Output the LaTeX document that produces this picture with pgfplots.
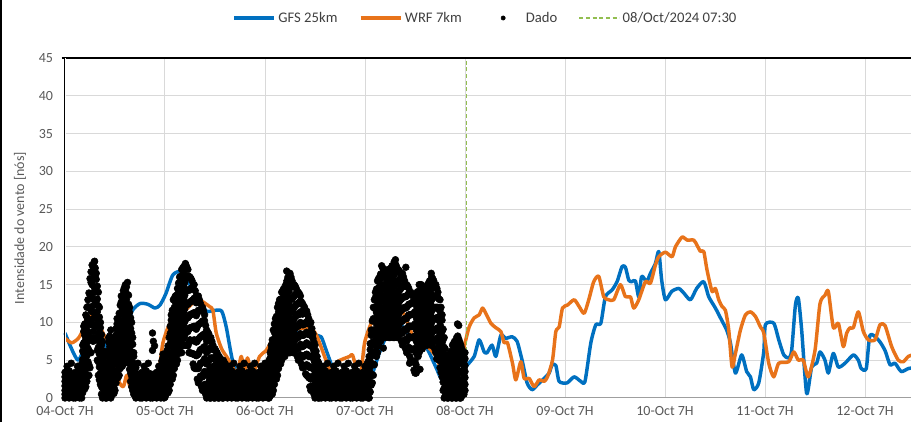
\documentclass[border=0pt]{standalone}
\usepackage{fontspec}
\setmainfont{Carlito}
\usepackage{pgfplots}
\usepackage{pgfplotstable}
\pgfplotsset{compat=1.18}
\definecolor{gfs}{RGB}{0,112,192}
\definecolor{wrf}{RGB}{232,115,26}
\definecolor{vline}{RGB}{146,190,80}
\definecolor{gridc}{RGB}{217,217,217}
\definecolor{txt}{RGB}{89,89,89}
\definecolor{legtxt}{RGB}{64,64,64}

\pgfplotstableread{
t a b c d e f g
0 0.0 0.5 1.0 1.6 2.2 2.8 3.4
0.5 0.2 0.8 1.3 1.9 2.5 3.1 4.2
1 0.0 0.6 1.2 1.7 2.3 2.9 3.6
1.5 0.1 0.7 1.1 1.8 2.4 3.0 4.6
2 0.0 0.4 0.9 1.5 2.1 2.7 3.2
2.5 0.0 0.5 1.0 1.6 2.2 2.8 3.4
3 0.2 0.8 1.3 1.9 2.5 3.1 4.2
3.5 0.0 0.6 1.2 1.7 2.3 2.9 3.6
4 0.0 0.8 1.5 2.3 3.0 3.8 4.5
4.5 1.5 3.0 4.4 5.9 7.3 8.8 9.5
5 1.5 3.1 4.7 6.2 7.8 9.4 11.0
5.5 2.9 4.8 6.6 8.4 10.3 12.1 13.0
6 4.0 6.0 7.9 9.9 11.9 13.8 15.8
6.5 7.9 9.7 11.4 13.2 15.0 16.7 17.6
7 8.0 9.7 11.3 13.0 14.7 16.3 18.0
7.5 7.8 9.4 11.0 12.5 14.1 15.7 16.5
8 3.0 4.8 6.7 8.5 10.3 12.2 14.0
8.5 1.8 3.3 4.8 6.3 7.8 9.3 10.0
9 0.0 1.3 2.5 3.8 5.0 6.3 7.5
9.5 0.3 0.9 1.6 2.2 2.8 3.5 3.8
10 0.0 0.8 1.5 2.3 3.0 3.8 4.5
10.5 0.9 2.2 3.5 4.8 6.1 7.4 8.0
11 0.0 1.5 3.0 4.5 6.0 7.5 9.0
11.5 0.7 1.7 2.6 3.6 4.6 5.5 6.0
12 1.0 2.2 3.3 4.5 5.7 6.8 8.0
12.5 3.2 4.5 5.8 7.2 8.5 9.8 10.5
13 3.0 4.4 5.7 7.1 8.5 9.8 11.2
13.5 4.8 6.4 8.0 9.5 11.1 12.7 13.5
14 4.5 6.1 7.7 9.4 11.0 12.6 14.2
14.5 5.8 7.5 9.2 10.8 12.5 14.2 15.0
15 5.5 7.1 8.8 10.4 12.0 13.7 15.3
15.5 3.8 5.3 6.8 8.3 9.8 11.3 12.0
16 1.5 2.9 4.3 5.8 7.2 8.6 10.0
16.5 0.5 1.5 2.5 3.5 4.5 5.5 6.0
17 0.0 0.7 1.3 2.0 2.7 3.3 4.0
17.5 0.1 0.7 1.1 1.8 2.4 3.0 4.6
18 0.0 0.4 0.9 1.5 2.1 2.7 3.2
18.5 0.0 0.5 1.0 1.6 2.2 2.8 3.4
19 0.2 0.8 1.3 1.9 2.5 3.1 4.2
19.5 0.0 0.6 1.2 1.7 2.3 2.9 3.6
20 0.1 0.7 1.1 1.8 2.4 3.0 4.6
20.5 0.0 0.4 0.9 1.5 2.1 2.7 3.2
21 0.0 0.6 1.2 1.8 2.4 6.3 8.6
21.5 0.1 0.7 1.3 1.9 2.6 3.2 6.9
22 0.0 0.5 1.0 1.6 2.2 2.8 3.4
22.5 0.2 0.8 1.3 1.9 2.5 3.1 4.2
23 0.0 0.7 1.3 2.0 2.7 3.3 4.0
23.5 0.5 1.5 2.4 3.4 4.4 5.3 5.8
24 0.1 0.9 1.7 2.6 3.4 4.2 5.0
24.5 1.0 2.0 2.9 3.9 4.9 5.8 6.3
25 1.0 2.2 3.3 4.5 5.7 6.8 8.0
25.5 2.8 4.3 5.8 7.3 8.8 10.3 11.0
26 3.0 4.7 6.3 8.0 9.7 11.3 13.0
26.5 4.8 6.4 8.0 9.5 11.1 12.7 13.5
27 5.0 6.6 8.2 9.8 11.3 12.9 14.5
27.5 6.8 8.5 10.2 11.8 13.5 15.2 16.0
28 6.0 7.8 9.7 11.5 13.3 15.2 17.0
28.5 7.9 9.6 11.3 13.1 14.8 16.5 17.4
29 7.0 8.8 10.5 12.3 14.1 15.8 17.6
29.5 6.9 8.8 10.6 12.4 14.3 16.1 17.0
30 6.0 7.7 9.3 11.0 12.7 14.3 16.0
30.5 5.9 7.6 9.4 11.1 12.9 14.6 15.5
31 4.0 5.8 7.7 9.5 11.3 13.2 15.0
31.5 3.9 5.6 7.4 9.1 10.9 12.6 13.5
32 2.0 3.9 5.8 7.8 9.7 11.6 13.5
32.5 2.9 4.6 6.4 8.1 9.9 11.6 12.5
33 1.0 2.8 4.7 6.5 8.3 10.2 12.0
33.5 1.8 3.5 5.2 6.8 8.5 10.2 11.0
34 0.0 1.5 3.0 4.5 6.0 7.5 9.0
34.5 0.7 2.1 3.5 5.0 6.4 7.8 8.5
35 0.0 1.3 2.7 4.0 5.3 6.7 8.0
35.5 0.6 1.8 2.9 4.1 5.2 6.4 7.0
36 0.0 1.1 2.2 3.3 4.3 5.4 6.5
36.5 0.5 1.5 2.5 3.5 4.5 5.5 6.0
37 0.0 0.9 1.8 2.8 3.7 4.6 5.5
37.5 0.4 1.3 2.1 2.9 3.8 4.6 5.0
38 0.0 0.8 1.7 2.5 3.3 4.2 5.0
38.5 0.4 1.1 1.9 2.6 3.4 4.1 4.5
39 0.0 0.5 1.0 1.6 2.2 2.8 3.4
39.5 0.2 0.8 1.3 1.9 2.5 3.1 4.2
40 0.0 0.6 1.2 1.7 2.3 2.9 3.6
40.5 0.1 0.7 1.1 1.8 2.4 3.0 4.6
41 0.0 0.4 0.9 1.5 2.1 2.7 3.2
41.5 0.0 0.5 1.0 1.6 2.2 2.8 3.4
42 0.2 0.8 1.3 1.9 2.5 3.1 4.2
42.5 0.0 0.6 1.2 1.7 2.3 2.9 3.6
43 0.1 0.7 1.1 1.8 2.4 3.0 4.6
43.5 0.0 0.4 0.9 1.5 2.1 2.7 3.2
44 0.0 0.5 1.0 1.6 2.2 2.8 3.4
44.5 0.2 0.8 1.3 1.9 2.5 3.1 4.2
45 0.0 0.6 1.2 1.7 2.3 2.9 3.6
45.5 0.1 0.7 1.1 1.8 2.4 3.0 4.6
46 0.0 0.4 0.9 1.5 2.1 2.7 3.2
46.5 0.0 0.5 1.0 1.6 2.2 2.8 3.4
47 0.2 0.8 1.3 1.9 2.5 3.1 4.2
47.5 0.0 0.6 1.2 1.7 2.3 2.9 3.6
48 0.1 0.7 1.1 1.8 2.4 3.0 4.6
48.5 0.3 1.0 1.7 2.3 3.0 3.7 4.0
49 0.0 0.8 1.7 2.5 3.3 4.2 5.0
49.5 0.6 1.8 2.9 4.1 5.2 6.4 7.0
50 1.0 2.3 3.7 5.0 6.3 7.7 9.0
50.5 2.7 4.1 5.5 7.0 8.4 9.8 10.5
51 3.0 4.5 6.0 7.5 9.0 10.5 12.0
51.5 4.8 6.3 7.8 9.3 10.8 12.3 13.0
52 5.0 6.5 8.0 9.5 11.0 12.5 14.0
52.5 5.8 7.4 9.0 10.5 12.1 13.7 14.5
53 6.0 7.5 9.0 10.5 12.0 13.5 15.0
53.5 6.8 8.5 10.2 11.8 13.5 15.2 16.0
54 6.0 7.8 9.5 11.3 13.0 14.8 16.5
54.5 6.8 8.4 10.0 11.5 13.1 14.7 15.5
55 6.0 7.5 9.0 10.5 12.0 13.5 15.0
55.5 6.7 8.1 9.5 11.0 12.4 13.8 14.5
56 5.0 6.5 8.0 9.5 11.0 12.5 14.0
56.5 5.7 7.1 8.5 10.0 11.4 12.8 13.5
57 4.0 5.4 6.8 8.3 9.7 11.1 12.5
57.5 4.2 5.6 7.0 8.5 9.9 11.3 12.0
58 3.0 4.4 5.8 7.3 8.7 10.1 11.5
58.5 2.7 4.1 5.5 7.0 8.4 9.8 10.5
59 1.0 2.5 4.0 5.5 7.0 8.5 10.0
59.5 1.6 2.9 4.1 5.4 6.6 7.9 8.5
60 0.0 1.2 2.3 3.5 4.7 5.8 7.0
60.5 0.5 1.4 2.3 3.2 4.1 5.0 5.5
61 0.0 0.8 1.5 2.3 3.0 3.8 4.5
61.5 0.0 0.5 1.0 1.6 2.2 2.8 3.4
62 0.2 0.8 1.3 1.9 2.5 3.1 4.2
62.5 0.0 0.6 1.2 1.7 2.3 2.9 3.6
63 0.1 0.7 1.1 1.8 2.4 3.0 4.6
63.5 0.0 0.4 0.9 1.5 2.1 2.7 3.2
64 0.0 0.5 1.0 1.6 2.2 2.8 3.4
64.5 0.2 0.8 1.3 1.9 2.5 3.1 4.2
65 0.0 0.6 1.2 1.7 2.3 2.9 3.6
65.5 0.1 0.7 1.1 1.8 2.4 3.0 4.6
66 0.0 0.4 0.9 1.5 2.1 2.7 3.2
66.5 0.0 0.5 1.0 1.6 2.2 2.8 3.4
67 0.2 0.8 1.3 1.9 2.5 3.1 4.2
67.5 0.0 0.6 1.2 1.7 2.3 2.9 3.6
68 0.1 0.7 1.1 1.8 2.4 3.0 4.6
68.5 0.0 0.4 0.9 1.5 2.1 2.7 3.2
69 0.0 0.5 1.0 1.6 2.2 2.8 3.4
69.5 0.2 0.8 1.3 1.9 2.5 3.1 4.2
70 0.0 0.6 1.2 1.7 2.3 2.9 3.6
70.5 0.1 0.7 1.1 1.8 2.4 3.0 4.6
71 0.0 0.4 0.9 1.5 2.1 2.7 3.2
71.5 0.0 0.5 1.0 1.6 2.2 2.8 3.4
72 0.2 0.8 1.3 1.9 2.5 3.1 4.2
72.5 0.4 1.1 1.9 2.6 3.4 4.1 4.5
73 0.0 0.9 1.8 2.8 3.7 4.6 5.5
73.5 1.7 3.0 4.3 5.7 7.0 8.3 9.0
74 3.0 4.5 6.0 7.5 9.0 10.5 12.0
74.5 5.8 7.3 8.8 10.3 11.8 13.3 14.0
75 6.0 7.6 9.2 10.8 12.3 13.9 15.5
75.5 7.8 9.3 10.8 12.3 13.8 15.3 16.0
76 8.0 9.6 11.2 12.8 14.3 15.9 17.5
76.5 8.8 10.3 11.8 13.3 14.8 16.3 17.0
77 8.0 9.4 10.8 12.3 13.7 15.1 16.5
77.5 8.8 10.3 11.8 13.3 14.8 16.3 17.0
78 8.0 9.5 11.0 12.5 14.0 15.5 17.0
78.5 8.8 10.4 12.0 13.5 15.1 16.7 17.5
79 8.0 9.7 11.3 13.0 14.7 16.3 18.0
79.5 8.8 10.4 12.0 13.5 15.1 16.7 17.5
80 8.0 9.5 11.0 12.5 14.0 15.5 17.0
80.5 8.7 10.1 11.5 13.0 14.4 15.8 16.5
81 7.0 8.6 10.2 11.8 13.3 14.9 16.5
81.5 7.7 9.1 10.5 12.0 13.4 14.8 15.5
82 6.0 7.5 9.0 10.5 12.0 13.5 15.0
82.5 6.7 8.1 9.5 11.0 12.4 13.8 14.5
83 5.0 6.5 8.0 9.5 11.0 12.5 14.0
83.5 4.8 6.4 8.0 9.5 11.1 12.7 13.5
84 3.3 4.9 6.5 8.2 9.8 11.4 13.0
84.5 5.8 7.3 8.8 10.3 11.8 13.3 14.0
85 6.0 7.5 9.0 10.5 12.0 13.5 15.0
85.5 6.8 8.3 9.8 11.3 12.8 14.3 15.0
86 7.0 8.3 9.5 10.8 12.0 13.3 14.5
86.5 7.6 8.9 10.1 11.4 12.6 13.9 14.5
87 7.0 8.3 9.7 11.0 12.3 13.7 15.0
87.5 7.7 9.1 10.5 12.0 13.4 14.8 15.5
88 7.0 8.5 10.0 11.5 13.0 14.5 16.0
88.5 7.7 9.1 10.5 12.0 13.4 14.8 15.5
89 6.0 7.5 9.0 10.5 12.0 13.5 15.0
89.5 6.7 8.0 9.3 10.7 12.0 13.3 14.0
90 4.0 5.5 7.0 8.5 10.0 11.5 13.0
90.5 2.8 4.3 5.8 7.3 8.8 10.3 11.0
91 0.0 1.3 2.7 4.0 5.3 6.7 8.0
91.5 0.4 1.3 2.1 2.9 3.8 4.6 5.0
92 0.0 0.7 1.3 2.0 2.7 3.3 4.0
92.5 0.5 1.5 2.5 3.5 4.5 5.5 6.0
93 0.0 1.2 2.3 3.5 4.7 5.8 7.0
93.5 0.6 1.9 3.1 4.4 5.6 6.9 7.5
94 0.0 1.3 2.7 4.0 5.3 6.7 8.0
94.5 0.7 2.1 3.5 5.0 6.4 7.8 9.6
95 0.0 1.2 2.3 3.5 4.7 5.8 7.0
95.5 0.5 1.5 2.5 3.5 4.5 5.5 6.0
96 1.0 1.8 2.7 3.5 4.3 5.2 6.0
}\dado

\pgfplotstableread{
t a b c d e f g
4.25 0.7 1.8 2.9 4.0 5.1 6.2 7.0
4.75 2.3 3.8 5.3 6.8 8.3 9.8 1.2
5.25 2.2 3.9 5.6 7.3 9.0 10.7 12.0
5.75 4.4 6.3 8.2 10.1 12.0 13.9 3.0
6.25 6.0 7.8 9.7 11.6 13.4 15.3 16.7
6.75 8.8 10.5 12.2 13.9 15.7 17.4 7.5
7.25 7.9 9.5 11.1 12.8 14.4 16.0 17.2
7.75 6.3 8.0 9.7 11.4 13.1 14.8 5.0
8.25 2.4 4.1 5.8 7.4 9.1 10.7 12.0
8.75 1.5 2.9 4.3 5.6 7.0 8.4 0.5
9.25 0.2 1.2 2.1 3.0 4.0 4.9 5.6
9.75 0.5 1.2 1.9 2.6 3.3 4.0 0.0
10.25 0.4 1.4 2.4 3.5 4.5 5.5 6.2
10.75 1.2 2.6 4.0 5.4 6.8 8.2 0.1
11.25 0.4 1.6 2.9 4.1 5.3 6.5 7.5
11.75 1.4 2.5 3.5 4.6 5.7 6.7 0.6
12.25 2.0 3.3 4.5 5.8 7.0 8.3 9.2
12.75 3.7 5.1 6.4 7.8 9.1 10.5 2.7
13.25 3.9 5.3 6.8 8.3 9.7 11.2 12.3
13.75 5.4 7.0 8.6 10.2 11.8 13.4 4.2
14.25 5.1 6.8 8.4 10.1 11.7 13.4 14.6
14.75 6.4 8.1 9.7 11.4 13.0 14.7 5.2
15.25 4.6 6.2 7.7 9.3 10.9 12.4 13.6
15.75 3.3 4.8 6.2 7.7 9.2 10.6 2.2
16.25 1.0 2.2 3.4 4.7 5.9 7.1 8.0
23.25 0.2 1.0 1.8 2.7 3.5 4.3 4.9
23.75 0.7 1.6 2.5 3.4 4.3 5.2 0.0
24.25 0.5 1.4 2.3 3.2 4.0 4.9 5.6
24.75 1.5 2.6 3.7 4.7 5.8 6.9 0.7
25.25 1.8 3.2 4.5 5.8 7.2 8.5 9.5
25.75 3.7 5.3 6.9 8.5 10.0 11.6 2.5
26.25 3.9 5.5 7.2 8.8 10.4 12.0 13.2
26.75 5.7 7.3 8.9 10.4 12.0 13.6 4.5
27.25 5.9 7.5 9.2 10.8 12.4 14.0 15.2
27.75 7.3 9.1 10.8 12.6 14.3 16.1 6.0
28.25 6.9 8.7 10.5 12.3 14.1 15.8 17.2
28.75 8.3 10.1 11.8 13.6 15.3 17.1 7.0
29.25 7.0 8.8 10.6 12.4 14.2 16.0 17.3
29.75 7.3 9.1 10.8 12.6 14.3 16.1 6.0
30.25 5.9 7.6 9.3 11.1 12.8 14.5 15.8
30.75 5.8 7.6 9.4 11.2 13.0 14.8 4.5
31.25 3.9 5.7 7.5 9.3 11.1 12.9 14.2
31.75 3.9 5.7 7.5 9.4 11.2 13.0 2.5
32.25 2.5 4.3 6.1 7.9 9.8 11.6 13.0
32.75 2.8 4.6 6.4 8.2 10.0 11.8 1.5
33.25 1.4 3.2 4.9 6.7 8.4 10.2 11.5
33.75 1.7 3.3 4.9 6.4 8.0 9.6 0.5
34.25 0.4 1.8 3.3 4.7 6.2 7.6 8.7
34.75 1.0 2.4 3.8 5.1 6.5 7.9 0.0
35.25 0.3 1.6 2.8 4.1 5.3 6.6 7.5
35.75 0.8 2.0 3.1 4.2 5.3 6.4 0.0
36.25 0.3 1.3 2.3 3.4 4.4 5.4 6.2
36.75 0.7 1.7 2.6 3.6 4.5 5.5 0.0
37.25 0.2 1.1 2.0 2.8 3.7 4.6 5.2
37.75 0.6 1.5 2.3 3.1 3.9 4.8 0.0
38.25 0.2 1.0 1.8 2.5 3.3 4.1 4.7
48.75 0.6 1.3 2.1 2.8 3.6 4.3 0.0
49.25 0.3 1.3 2.3 3.3 4.3 5.3 6.0
49.75 1.4 2.7 3.9 5.2 6.4 7.7 0.5
50.25 1.8 3.2 4.6 6.0 7.4 8.7 9.8
50.75 3.6 5.0 6.5 7.9 9.4 10.8 2.5
51.25 3.9 5.4 6.9 8.4 9.9 11.4 12.5
51.75 5.6 7.1 8.6 10.1 11.6 13.1 4.5
52.25 5.4 6.9 8.4 10.0 11.5 13.0 14.2
52.75 6.7 8.2 9.8 11.3 12.9 14.4 5.5
53.25 6.4 8.0 9.6 11.1 12.7 14.3 15.5
53.75 7.3 9.0 10.7 12.4 14.1 15.8 6.0
54.25 6.4 8.1 9.8 11.4 13.1 14.7 16.0
54.75 7.1 8.7 10.2 11.7 13.3 14.8 6.0
55.25 6.4 7.8 9.3 10.8 12.2 13.7 14.8
55.75 6.6 8.1 9.5 11.0 12.4 13.9 5.5
56.25 5.4 6.8 8.3 9.8 11.2 12.7 13.8
56.75 5.6 7.0 8.4 9.8 11.2 12.7 4.5
57.25 4.1 5.5 6.9 8.3 9.7 11.2 12.2
57.75 4.3 5.7 7.1 8.5 9.9 11.3 3.2
58.25 2.9 4.3 5.7 7.1 8.5 9.9 11.0
58.75 2.6 4.1 5.5 7.0 8.4 9.9 1.5
59.25 1.3 2.7 4.1 5.5 6.8 8.2 9.2
59.75 1.4 2.6 3.8 5.0 6.2 7.4 0.5
60.25 0.3 1.3 2.3 3.4 4.4 5.4 6.2
60.75 0.6 1.5 2.3 3.1 3.9 4.8 0.0
72.75 0.6 1.5 2.3 3.1 3.9 4.8 0.0
73.25 0.8 1.9 3.0 4.2 5.3 6.4 7.2
73.75 3.1 4.5 5.9 7.3 8.7 10.2 2.0
74.25 4.4 5.9 7.4 8.9 10.4 11.9 13.0
74.75 6.7 8.2 9.8 11.3 12.9 14.4 5.5
75.25 6.9 8.4 10.0 11.5 13.1 14.6 15.8
75.75 8.7 10.2 11.8 13.3 14.9 16.4 7.5
76.25 8.4 9.9 11.4 13.0 14.5 16.0 17.2
76.75 9.1 10.6 12.0 13.5 15.0 16.4 8.0
77.25 8.4 9.8 11.3 12.8 14.2 15.7 16.8
77.75 9.1 10.6 12.1 13.6 15.1 16.6 8.0
78.25 8.4 9.9 11.4 13.0 14.5 16.0 17.2
78.75 9.2 10.8 12.5 14.1 15.7 17.4 8.0
79.25 8.4 10.0 11.7 13.3 14.9 16.6 17.8
79.75 9.1 10.7 12.2 13.7 15.3 16.8 8.0
80.25 8.4 9.8 11.3 12.8 14.2 15.7 16.8
80.75 8.6 10.1 11.6 13.1 14.6 16.1 7.5
81.25 7.4 8.9 10.4 11.9 13.4 14.9 16.0
81.75 7.6 9.0 10.5 11.9 13.4 14.8 6.5
82.25 6.4 7.8 9.3 10.8 12.2 13.7 14.8
82.75 6.6 8.1 9.5 11.0 12.4 13.9 5.5
83.25 4.9 6.4 8.0 9.5 11.1 12.6 13.8
83.75 4.9 6.5 8.1 9.6 11.2 12.8 3.7
84.25 4.4 6.0 7.6 9.1 10.7 12.3 13.5
84.75 6.6 8.1 9.6 11.1 12.6 14.1 5.5
85.25 6.4 7.9 9.4 10.9 12.4 13.9 15.0
85.75 7.5 8.9 10.3 11.7 13.1 14.4 6.5
86.25 7.3 8.6 9.8 11.1 12.3 13.6 14.5
86.75 8.0 9.3 10.6 11.9 13.2 14.5 7.0
87.25 7.3 8.7 10.1 11.4 12.8 14.2 15.2
87.75 8.1 9.6 11.0 12.5 14.0 15.4 7.0
88.25 7.4 8.8 10.3 11.8 13.2 14.7 15.8
88.75 7.6 9.0 10.5 11.9 13.4 14.8 6.5
89.25 6.4 7.8 9.2 10.6 12.0 13.4 14.5
89.75 6.1 7.5 8.9 10.3 11.7 13.1 5.0
90.25 3.4 4.9 6.4 7.9 9.4 10.9 12.0
90.75 2.1 3.5 4.9 6.3 7.7 9.1 1.0
91.25 0.3 1.4 2.4 3.5 4.6 5.7 6.5
91.75 0.6 1.3 2.1 2.8 3.6 4.3 0.0
92.25 0.2 1.0 1.9 2.7 3.5 4.4 5.0
92.75 0.8 1.9 3.0 4.1 5.2 6.2 0.0
93.25 0.3 1.5 2.7 3.9 5.1 6.3 7.2
93.75 1.0 2.2 3.5 4.8 6.1 7.4 0.0
94.25 0.3 1.7 3.1 4.5 5.8 7.2 8.2
94.75 1.0 2.2 3.5 4.8 6.1 7.4 0.0
95.25 0.3 1.4 2.4 3.5 4.6 5.7 6.5
95.75 1.2 2.1 3.0 3.9 4.9 5.8 0.5
}\dadob

\begin{document}
\begin{tikzpicture}
\begin{axis}[
  at={(0pt,0pt)}, anchor=south west,
  scale only axis, width=637.5pt, height=255pt,
  xmin=0, xmax=204, ymin=0, ymax=45,
  xtick={0,24,...,192},
  xticklabels={04-Oct 7H,05-Oct 7H,06-Oct 7H,07-Oct 7H,08-Oct 7H,09-Oct 7H,10-Oct 7H,11-Oct 7H,12-Oct 7H},
  ytick={0,5,...,45},
  grid=major, major grid style={gridc, line width=0.75pt},
  major tick length=0pt,
  axis line style={draw=none},
  tick label style={font=\fontsize{10.5}{12}\selectfont, text=txt},
  xticklabel style={yshift=-2.5pt},
  yticklabel style={xshift=-5.5pt},
  /pgf/number format/assume math mode=true,
  ylabel={Intensidade do vento [nós]},
  ylabel style={font=\fontsize{10.5}{12}\selectfont, text=txt, at={(axis description cs:-0.0528,0.5)}, anchor=center},
  legend columns=4,
  legend cell align=left,
  legend style={draw=none, fill=none, at={(0.4949,1)}, anchor=center, yshift=30pt,
    font=\fontsize{11}{13}\selectfont, text=legtxt,
    /tikz/every even column/.append style={column sep=14pt}},
  clip=false,
  dado/.style={only marks, mark=*, mark size=2.55pt, black, forget plot},
]
\addplot[gfs, line width=2.6pt, smooth, tension=0.4, line join=round,
  legend image code/.code={\draw[gfs, line width=2.6pt] (0pt,0pt) -- (30pt,0pt);}]
coordinates {(0,8.6)(3.1,5.0)(5.5,7.9)(6.7,8.1)(8.8,7.7)(10.8,6.1)(12.7,6.8)(14.1,7.5)(16.0,11.4)(18.0,12.5)(19.9,12.4)(21.6,11.9)(22.8,12.3)(24.2,13.8)(25.9,16.3)(28.0,16.7)(30.3,14.7)(32.3,13.2)(33.9,11.5)(35.9,11.6)(37.6,11.5)(38.7,9.4)(40.2,5.0)(41.9,3.3)(44.3,2.5)(46.7,2.3)(48.4,3.0)(49.8,4.1)(53.1,6.3)(55.1,8.1)(57.5,9.8)(60.3,8.3)(61.5,8.1)(62.7,6.3)(64.2,4.1)(65.9,2.5)(69.5,2.0)(73.1,2.4)(75.4,5.9)(77.8,9.0)(80.2,9.9)(81.8,8.8)(83.4,8.1)(86.6,6.8)(89.0,4.1)(90.5,2.4)(91.7,4.0)(93.4,3.5)(95.3,3.3)(96.3,4.2)(98.2,5.5)(99.4,7.7)(100.6,6.1)(101.3,6.0)(102.5,7.0)(103.4,5.5)(104.6,8.3)(105.8,7.9)(107.3,8.1)(108.5,7.5)(109.7,5.0)(110.9,2.0)(112.1,1.1)(113.3,1.7)(115.0,2.6)(116.2,3.3)(116.9,4.4)(117.8,4.3)(118.6,2.2)(120.5,2.0)(122.2,2.8)(123.8,2.2)(124.8,2.2)(126.2,7.3)(127.4,9.7)(128.6,9.9)(129.7,13.4)(131.3,14.3)(132.5,15.4)(133.7,17.4)(134.5,17.3)(135.3,15.6)(136.0,15.4)(136.9,15.5)(137.7,13.4)(138.4,16.1)(139.6,15.4)(140.5,16.5)(141.7,17.8)(142.5,19.4)(143.2,15.6)(144.1,13.0)(145.6,14.1)(147.3,14.5)(148.5,13.9)(150.1,13.0)(151.6,14.5)(153.3,15.4)(154.5,13.4)(156.1,11.9)(157.6,10.3)(158.8,9.0)(159.7,7.3)(160.9,3.3)(162.4,5.7)(163.6,3.5)(164.5,2.8)(165.3,1.1)(166.5,2.0)(167.7,6.1)(168.1,9.7)(170.1,9.9)(171.3,7.7)(172.5,5.7)(173.7,5.3)(174.4,6.3)(175.3,12.3)(176.0,13.2)(176.8,9.0)(178.0,0.6)(179.2,4.1)(180.4,4.6)(181.2,6.1)(182.4,5.0)(183.2,3.3)(184.4,5.9)(185.6,4.1)(187.2,4.6)(189.2,5.7)(190.4,5.0)(191.1,3.9)(192.3,3.9)(193.2,8.3)(195.2,7.7)(196.8,6.3)(198.0,4.4)(199.2,4.6)(200.7,3.5)(202.4,3.9)(204,4.0)};
\addlegendentry{GFS 25km}
\addplot[wrf, line width=2.6pt, smooth, tension=0.4, line join=round,
  legend image code/.code={\draw[wrf, line width=2.6pt] (0pt,0pt) -- (30pt,0pt);}]
coordinates {(0,7.9)(1.6,7.3)(3.2,7.9)(4.3,9.0)(5.2,10.6)(6.0,10.8)(7.2,10.5)(8.4,9.4)(9.6,8.1)(10.8,7.5)(11.6,6.3)(12.8,2.4)(14.0,1.5)(14.8,3.0)(15.6,1.5)(16.8,1.2)(19.2,1.5)(22.0,2.8)(22.8,4.6)(23.5,7.3)(24.7,9.3)(25.9,10.2)(28.7,11.5)(31.1,12.8)(32.3,13.0)(34.7,12.1)(35.5,11.6)(36.3,8.6)(37.6,6.5)(39.0,5.3)(41.2,3.3)(42.3,5.5)(43.1,3.3)(43.8,5.3)(45.0,3.1)(46.7,5.5)(48.3,6.3)(49.9,7.7)(52.7,8.5)(56.3,9.2)(59.4,9.0)(60.6,8.0)(62.3,5.5)(63.9,3.3)(65.4,4.8)(68.3,5.5)(69.0,5.7)(70.2,3.5)(71.1,3.6)(71.9,7.3)(73.5,9.9)(75.4,11.0)(78.6,12.3)(81.0,11.5)(83.8,7.9)(86.7,7.0)(89.3,5.3)(90.5,3.0)(91.7,3.3)(93.4,4.0)(95.1,5.0)(95.8,6.8)(97.0,9.4)(98.2,10.6)(99.4,11.0)(100.2,11.9)(101.0,11.2)(102.2,9.9)(103.4,9.3)(104.6,8.8)(105.4,7.3)(106.2,7.3)(107.4,4.6)(108.2,2.4)(109.4,4.8)(110.2,2.6)(111.4,2.6)(112.6,1.5)(113.8,2.4)(115.0,2.2)(115.8,2.8)(117.0,5.0)(117.8,8.8)(118.6,9.4)(119.4,11.9)(120.6,12.3)(122.2,13.0)(123.4,12.1)(124.6,11.2)(125.7,13.0)(126.9,15.4)(128.1,16.1)(129.3,13.4)(130.5,13.0)(131.7,13.0)(133.3,15.0)(134.5,13.4)(135.7,13.4)(136.5,11.9)(137.7,13.0)(139.3,15.4)(140.5,15.2)(141.7,17.6)(142.5,18.7)(144.1,19.3)(145.7,18.7)(146.5,20.0)(148.1,21.3)(149.3,20.9)(150.9,20.9)(151.7,20.2)(152.5,19.4)(153.3,19.4)(154.1,16.9)(155.3,14.1)(156.1,14.5)(156.9,13.0)(157.7,12.1)(158.5,11.6)(159.3,9.0)(160.1,4.1)(160.9,5.9)(162.1,9.0)(163.3,11.0)(164.5,11.4)(165.7,10.8)(166.9,9.4)(167.7,8.6)(168.9,4.6)(170.1,2.8)(171.3,4.6)(173.7,4.8)(174.9,6.1)(176.0,5.0)(177.2,5.0)(178.4,2.8)(180.0,6.3)(181.2,12.5)(182.4,13.6)(183.2,14.1)(184.4,9.3)(185.6,9.9)(186.8,6.8)(187.6,8.6)(188.4,9.3)(189.2,9.3)(190.4,11.4)(191.6,8.8)(192.8,7.7)(194.4,7.7)(195.6,9.7)(196.8,9.6)(198.4,6.8)(200.0,5.0)(201.2,4.8)(202.4,5.5)(204,5.8)};
\addlegendentry{WRF 7km}
\addplot[only marks, mark=*, mark size=2.55pt, black,
  legend image code/.code={\path[draw=none,fill=none] (0pt,-0.5pt) rectangle (30pt,0.5pt); \fill[black] (15pt,0pt) circle (1.6pt);}]
  table[x=t, y=a]{\dado};
\addlegendentry{Dado}
\addplot[dado] table[x=t, y=b]{\dado};
\addplot[dado] table[x=t, y=c]{\dado};
\addplot[dado] table[x=t, y=d]{\dado};
\addplot[dado] table[x=t, y=e]{\dado};
\addplot[dado] table[x=t, y=f]{\dado};
\addplot[dado] table[x=t, y=g]{\dado};
\addplot[dado] table[x=t, y=a]{\dadob};
\addplot[dado] table[x=t, y=b]{\dadob};
\addplot[dado] table[x=t, y=c]{\dadob};
\addplot[dado] table[x=t, y=d]{\dadob};
\addplot[dado] table[x=t, y=e]{\dadob};
\addplot[dado] table[x=t, y=f]{\dadob};
\addplot[dado] table[x=t, y=g]{\dadob};
\addplot[dado]
coordinates {(21.2,7.5)(53.2,16.8)(79.3,18.3)(81.8,17.3)(84.3,3.3)(85.2,3.8)(82.7,4.6)(87.9,16.5)(89.2,5.2)(7.1,18.1)(28.9,17.8)(76.4,6.6)(94.2,9.8)};
\addplot[vline, line width=1pt, dash pattern=on 3pt off 2pt,
  legend image code/.code={\draw[vline, line width=1pt, dash pattern=on 3pt off 2pt] (0pt,0pt) -- (30pt,0pt);}]
coordinates {(96.3,0) (96.3,45)};
\addlegendentry{08/Oct/2024 07:30}
\draw[black, line width=2pt] (rel axis cs:-0.004,1) -- (rel axis cs:1.02,1);
\draw[black, double=white, double distance=0.6pt, line width=0.6pt] (rel axis cs:0,0) -- (rel axis cs:0,1);
\draw[gray!75, double=white, double distance=0.6pt, line width=0.6pt] (rel axis cs:0,0) -- (rel axis cs:1.02,0);
\end{axis}
\draw[black, line width=1.6pt] (-48pt,-18pt) -- (-48pt,298.5pt);
\pgfresetboundingbox
\useasboundingbox (-48.75pt,-18pt) rectangle (634.5pt,298.5pt);
\end{tikzpicture}
\end{document}
